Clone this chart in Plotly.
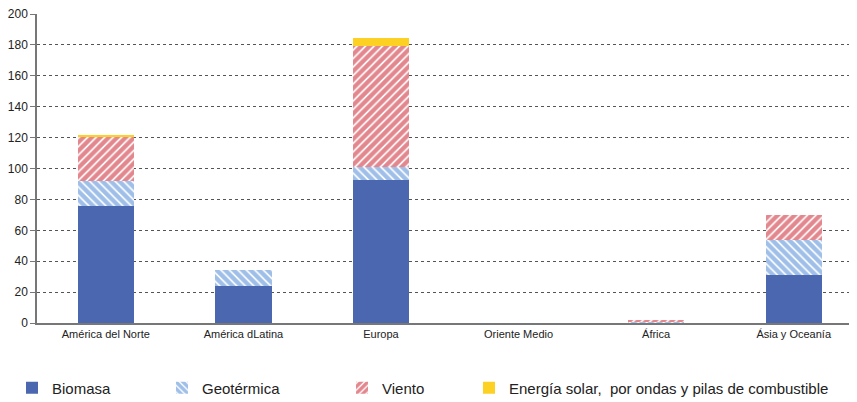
import plotly.graph_objects as go

categories = ["América del Norte", "América dLatina", "Europa", "Oriente Medio", "África", "Ásia y Oceanía"]
biomasa = [76, 24, 92.5, 0, 0, 31]
geotermica = [16, 10, 8.5, 0, 0.5, 23]
viento = [28.5, 0, 78, 0, 1.5, 16]
solar = [1.5, 0, 5.5, 0, 0, 0]
y_ticks = [0, 20, 40, 60, 80, 100, 120, 140, 160, 180, 200]

# page body has an 8px margin, so the figure is sized 849x394 to fit the 857x402 window
W, H = 849, 394

fig = go.Figure()
fig.add_bar(x=categories, y=biomasa, name="Biomasa", marker=dict(color="#4a67b0", line=dict(width=0)), legend="legend")
fig.add_bar(x=categories, y=geotermica, name="Geotérmica",
            marker=dict(color="white", line=dict(width=0),
                        pattern=dict(shape="\\", fgcolor="#3f7fd2", bgcolor="white", size=6, solidity=0.72)),
            legend="legend2")
fig.add_bar(x=categories, y=viento, name="Viento",
            marker=dict(color="white", line=dict(width=0),
                        pattern=dict(shape="/", fgcolor="#c8101e", bgcolor="white", size=6, solidity=0.72)),
            legend="legend3")
fig.add_bar(x=categories, y=solar, name="Energía solar,  por ondas y pilas de combustible",
            marker=dict(color="#fdd123", line=dict(width=0)), legend="legend4")

leg = dict(orientation="h", yref="container", yanchor="middle", y=14 / H, xref="container", xanchor="left",
           font=dict(family="Liberation Sans, Arial", size=15, color="#222"),
           bgcolor="rgba(0,0,0,0)", itemwidth=30)

fig.update_layout(
    width=W, height=H,
    showlegend=True,
    barmode="stack", bargap=0.59,
    margin=dict(l=29, r=0, t=6, b=79, autoexpand=False),
    plot_bgcolor="white", paper_bgcolor="white",
    font=dict(family="Liberation Sans Narrow, Arial Narrow, Liberation Sans, Arial", size=11, color="#222"),
    legend=dict(leg, x=4 / W),
    legend2=dict(leg, x=154 / W),
    legend3=dict(leg, x=334 / W),
    legend4=dict(leg, x=461 / W),
    yaxis=dict(range=[0, 200], tickvals=y_ticks, showgrid=True, gridcolor="#555", griddash="dot", gridwidth=1,
               showline=True, linecolor="#777", linewidth=1.5, ticks="outside", ticklen=5, tickcolor="#777",
               zeroline=False, ticklabeloverflow="allow",
               tickfont=dict(family="Liberation Sans, Arial", size=12, color="#222")),
    xaxis=dict(range=[-0.5, 5.46], showline=True, linecolor="#777", linewidth=1.5, ticks="", tickfont=dict(size=11)),
)
fig.write_html("out.html")
